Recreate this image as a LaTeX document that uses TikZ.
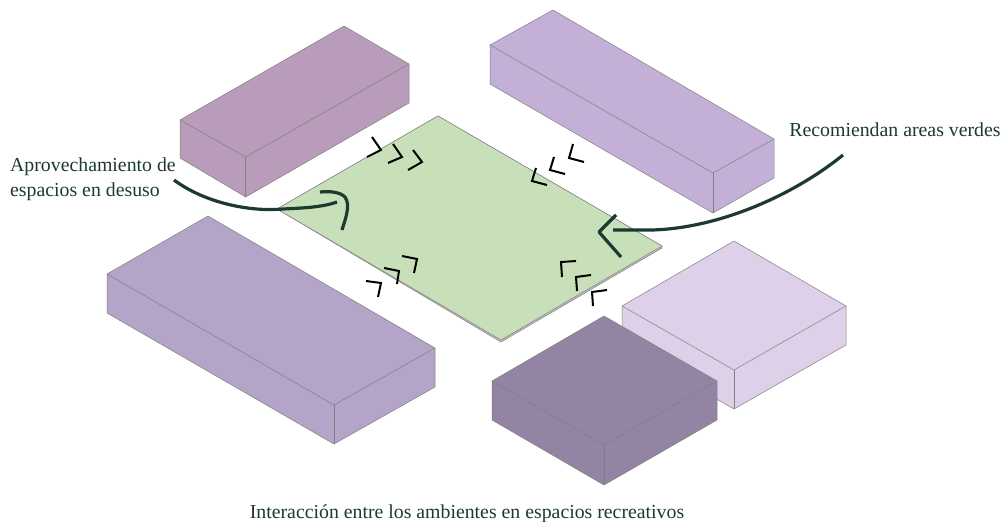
\documentclass[tikz,border=0pt]{standalone}
\usepackage{fontspec}
\setmainfont{Liberation Serif}
\definecolor{boxa}{HTML}{B89CBA}
\definecolor{boxb}{HTML}{C4B0D6}
\definecolor{boxc}{HTML}{B3A4C8}
\definecolor{boxd}{HTML}{DED0E8}
\definecolor{boxe}{HTML}{9484A4}
\definecolor{plate}{HTML}{C8E0BA}
\definecolor{ink}{HTML}{1D3A30}
\tikzset{
  edge/.style={draw=black!50, line width=0.5pt, line join=round},
  chevron/.style={draw=black, line width=2pt},
  bigarrow/.style={draw=ink, line width=3.2pt, line join=round},
  label/.style={text=ink, font=\fontsize{19.8}{24.5}\selectfont, inner sep=0pt},
}

\begin{document}
\begin{tikzpicture}[x=1pt, y=-1pt]
  \useasboundingbox[fill=white] (0, 0) rectangle (1002, 522);
  % top left
  \draw[edge, fill=boxa] (344, 26) -- (409, 64) -- (409, 103) -- (245.7, 197) -- (180, 158) -- (180, 120) -- cycle;
  \draw[edge] (180, 120) -- (245.7, 157) -- (409, 64);
  \draw[edge] (245.7, 157) -- (245.7, 197);
  % top right
  \draw[edge, fill=boxb] (553, 10) -- (774, 139) -- (774, 178) -- (713, 213) -- (490, 84) -- (490, 45) -- cycle;
  \draw[edge] (490, 45) -- (713, 173) -- (774, 139);
  \draw[edge] (713, 173) -- (713, 213);
  % bottom left
  \draw[edge, fill=boxc] (208, 216) -- (435, 348) -- (435, 387) -- (334, 444) -- (107, 313) -- (107, 274) -- cycle;
  \draw[edge] (107, 274) -- (334, 405) -- (435, 348);
  \draw[edge] (334, 405) -- (334, 444);
  % light block
  \draw[edge, fill=boxd] (734, 241) -- (846, 306) -- (846, 345) -- (734, 409) -- (622, 345) -- (622, 306) -- cycle;
  \draw[edge] (622, 306) -- (734, 370) -- (846, 306);
  \draw[edge] (734, 370) -- (734, 409);
  % dark block
  \draw[edge, fill=boxe] (604, 316) -- (717, 381) -- (717, 420) -- (604, 485) -- (492, 420) -- (492, 381) -- cycle;
  \draw[edge] (492, 381) -- (604, 445) -- (717, 381);
  \draw[edge] (604, 445) -- (604, 485);
  % green plate
  \draw[edge, fill=black!25] (277, 209) -- (501, 342) -- (662, 248) -- (662, 246) -- (438, 116) -- cycle;
  \draw[edge, fill=plate] (438, 116) -- (662, 246) -- (501, 340) -- (277, 209) -- cycle;
  % small marks
  \draw[chevron] (372, 137) -- (381, 150) -- (367, 157);
  \draw[chevron] (393, 144) -- (402, 157) -- (388, 163);
  \draw[chevron] (413, 150) -- (422, 162) -- (408, 170);
  \draw[chevron] (402, 256) -- (417, 259) -- (414, 273);
  \draw[chevron] (384, 268) -- (399, 271) -- (397, 284);
  \draw[chevron] (366, 281) -- (381, 283) -- (378, 297);
  \draw[chevron] (536, 168) -- (532, 181) -- (547, 185);
  \draw[chevron] (554, 157) -- (550, 170) -- (565, 174);
  \draw[chevron] (573, 144) -- (569, 158) -- (584, 162);
  \draw[chevron] (576, 261) -- (561, 262) -- (562, 277);
  \draw[chevron] (591, 275) -- (576, 277) -- (577, 291);
  \draw[chevron] (607, 290) -- (592, 292) -- (593, 306);
  % big arrows
  \draw[bigarrow] (174, 180) .. controls (205, 203) and (250, 212) .. (283, 209) .. controls (305, 208) and (323, 207) .. (337, 202);
  \draw[bigarrow] (320, 192) .. controls (330, 191) and (340, 192) .. (345, 197) .. controls (351, 205) and (345, 220) .. (342, 230);
  \draw[bigarrow] (843, 155) .. controls (790, 198) and (710, 232) .. (640, 230) -- (613, 230);
  \draw[bigarrow] (616, 215) -- (599, 232) -- (621, 257);
  %
  \node[label, align=left, anchor=north west] (reuse) at (10, 158) {Aprovechamiento de\\espacios en desuso};
  \node[label, anchor=center] (green) at (895, 130) {Recomiendan areas verdes};
  \node[label, anchor=center] (caption) at (467, 513.5) {Interacción entre los ambientes en espacios recreativos};
\end{tikzpicture}
\end{document}
